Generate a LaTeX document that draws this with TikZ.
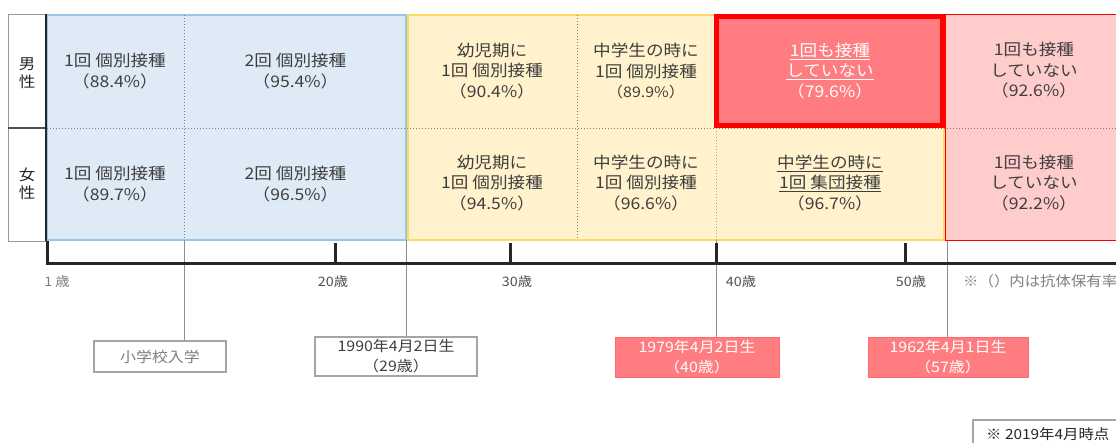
\documentclass[tikz,border=0pt]{standalone}
\usepackage{fontspec}
\setmainfont{Noto Sans CJK JP}[FakeStretch=1.1]
\definecolor{bluefill}{HTML}{DEEBF7}
\definecolor{blueline}{HTML}{9DC3E6}
\definecolor{yelfill}{HTML}{FFF2CC}
\definecolor{yelline}{HTML}{FFD966}
\definecolor{redfill}{HTML}{FF7C80}
\definecolor{pinkfill}{HTML}{FFCCCC}
\definecolor{rline}{HTML}{FF0000}
\definecolor{txt}{HTML}{3F3F3F}
\definecolor{ltxt}{HTML}{7F7F7F}
\definecolor{mtxt}{HTML}{505050}
\definecolor{axisc}{HTML}{262626}
\definecolor{conngray}{HTML}{8C8C8C}
\begin{document}
\begin{tikzpicture}[x=1pt,y=-1pt,
  cell/.style={align=center, text=txt, inner sep=0pt, font=\fontsize{16}{20.5}\selectfont},
  sexlab/.style={align=center, text=axisc, inner sep=0pt, font=\fontsize{15}{18}\selectfont},
  agelab/.style={text=mtxt, inner sep=0pt, font=\fontsize{13}{15}\selectfont},
  wbox/.style={draw=ltxt!70, line width=1.2, fill=white, align=center, inner sep=0pt, font=\fontsize{14.5}{20}\selectfont},
  rbox/.style={draw=redfill!85!red, line width=1, fill=redfill, text=white, align=center, inner sep=0pt, font=\fontsize{14.5}{20}\selectfont},
  conn/.style={draw=conngray, line width=1},
  divd/.style={draw=ltxt, line width=1, dotted},
  axisl/.style={draw=axisc, line width=3},
]
\useasboundingbox (0,0) rectangle (1116,442);
\clip (0,0) rectangle (1116,442);

% label column
\draw[draw=ltxt!80, line width=1] (8,14) rectangle (46,241);
\draw[draw=axisc!80, line width=1.5] (8,128) -- (46,128);
\node[sexlab] (male) at (27,73) {男\\性};
\node[sexlab] (female) at (27,184) {女\\性};

% regions
\draw[fill=bluefill, draw=blueline, line width=2] (47,15) rectangle (406,240);
\draw[fill=yelfill, draw=yelline, line width=2] (408,15) rectangle (944,240);
\draw[fill=pinkfill, draw=rline, line width=1.5] (945.5,14.5) rectangle (1125,240.5);

% dotted dividers
\draw[divd] (47,128) -- (1125,128);
\draw[divd] (184,15) -- (184,240);
\draw[divd] (577,15) -- (577,240);
\draw[divd, draw=ltxt!60!yelline] (716,128) -- (716,240);

% thick red box
\draw[fill=redfill, draw=rline, line width=5] (716,16.5) rectangle (942.5,125.5);

% right border of label column
\draw[draw=axisc, line width=2] (46,14) -- (46,241);

% cell texts
\node[cell, minimum width=138, minimum height=114] (m1) at (115,71) {1回 個別接種\\（88.4\%）};
\node[cell, minimum width=222, minimum height=114] (m2) at (295.5,71) {2回 個別接種\\（95.4\%）};
\node[cell, minimum width=170, minimum height=114] (m3) at (492,71) {幼児期に\\1回 個別接種\\（90.4\%）};
\node[cell, minimum width=138, minimum height=114] (m4) at (646,71) {中学生の時に\\1回 個別接種\\{\fontsize{14.5}{20.5}\selectfont（89.9\%）}};
\node[cell, text=white, minimum width=226, minimum height=108] (m5) at (830,71) {\underline{1回も接種}\\\underline{していない}\\（79.6\%）};
\node[cell, minimum width=178, minimum height=114] (m6) at (1034,70.5) {1回も接種\\していない\\（92.6\%）};

\node[cell, minimum width=138, minimum height=112] (f1) at (115,184) {1回 個別接種\\（89.7\%）};
\node[cell, minimum width=222, minimum height=112] (f2) at (295.5,184) {2回 個別接種\\（96.5\%）};
\node[cell, minimum width=170, minimum height=112] (f3) at (492,183) {幼児期に\\1回 個別接種\\（94.5\%）};
\node[cell, minimum width=138, minimum height=112] (f4) at (646,183) {中学生の時に\\1回 個別接種\\（96.6\%）};
\node[cell, minimum width=228, minimum height=112] (f5) at (830,183) {\underline{中学生の時に}\\\underline{1回 集団接種}\\（96.7\%）};
\node[cell, minimum width=178, minimum height=112] (f6) at (1034,183) {1回も接種\\していない\\（92.2\%）};

% bottom boxes
\node[wbox, text=ltxt, minimum width=132, minimum height=31] (school) at (160,356.5) {小学校入学};
\node[wbox, text=txt, minimum width=162, minimum height=39] (b1990) at (396,356.5) {1990年4月2日生\\（29歳）};
\node[rbox, minimum width=164, minimum height=40] (b1979) at (697,357) {1979年4月2日生\\（40歳）};
\node[rbox, minimum width=160, minimum height=40] (b1962) at (948,357) {1962年4月1日生\\（57歳）};

% connectors
\coordinate (k1) at (184,240);
\coordinate (k2) at (406.5,240);
\coordinate (k3) at (716,240);
\coordinate (k4) at (947,241);
\draw[conn] (k1) -- (k1 |- school.north);
\draw[conn] (k2) -- (k2 |- b1990.north);
\draw[conn] (k3) -- (k3 |- b1979.north);
\draw[conn] (k4) -- (k4 |- b1962.north);

% axis
\coordinate (ax0) at (47,241);
\coordinate (ax1) at (47,263);
\coordinate (ax2) at (1125,263);
\draw[axisl] (ax0) -- (ax1) -- (ax2);
\foreach \x in {335,510,716,905} \draw[axisl] (\x,243) -- (\x,263);

\node[agelab, text=ltxt] (a1) at (57,282) {1 歳};
\node[agelab] (a20) at (333,282) {20歳};
\node[agelab] (a30) at (517,282) {30歳};
\node[agelab] (a40) at (741,282) {40歳};
\node[agelab] (a50) at (911,282) {50歳};

\node[agelab, text=ltxt, anchor=west, font=\fontsize{14}{16}\selectfont] (note) at (963,281) {※（）内は抗体保有率};

% as-of box
\draw[draw=ltxt!70, line width=1.2, fill=white] (973,420) rectangle (1125,460);
\node[anchor=west, inner sep=0pt, text=axisc, font=\fontsize{14}{16}\selectfont] (asof) at (986,434.5) {※ 2019年4月時点};
\end{tikzpicture}
\end{document}
